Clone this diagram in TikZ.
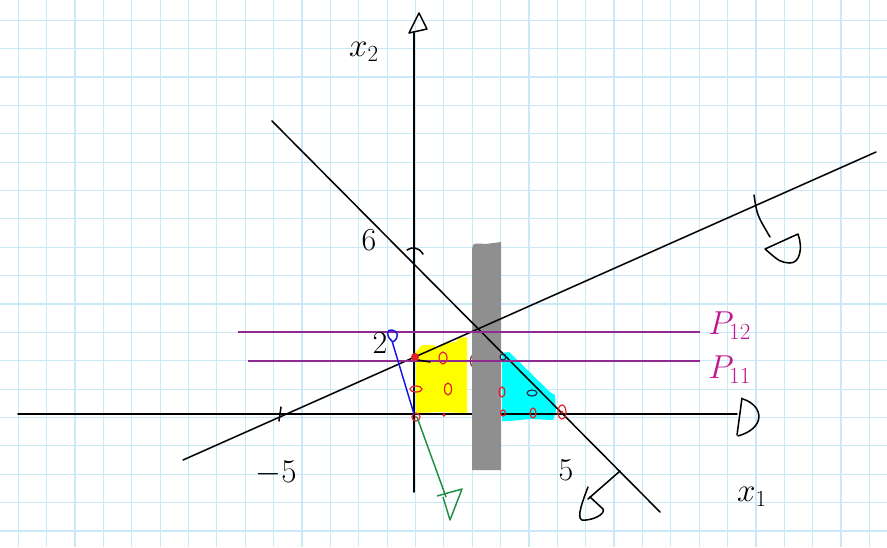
\documentclass[tikz,border=0pt]{standalone}
\definecolor{gridc}{HTML}{C9E9F9}
\definecolor{purp}{HTML}{8E2A92}
\definecolor{mag}{HTML}{C0188E}
\definecolor{redc}{HTML}{E3202A}
\definecolor{darkred}{HTML}{8E2A38}
\definecolor{navyc}{HTML}{20304A}
\definecolor{grayb}{HTML}{8F8F8F}
\definecolor{yel}{HTML}{FFFF00}
\definecolor{cyn}{HTML}{00FFFF}
\definecolor{bluec}{HTML}{1414E6}
\definecolor{greenc}{HTML}{1F8F3F}
\tikzset{
  gridline/.style={gridc, line width=0.9pt},
  pen/.style={black, line width=1.15pt, line cap=round, line join=round},
  purpline/.style={purp, line width=1.5pt},
  redmark/.style={redc, line width=0.9pt},
  darkmark/.style={darkred, line width=0.9pt},
  navymark/.style={navyc, line width=0.9pt},
  lab/.style={inner sep=0pt, font=\fontsize{24}{28}\selectfont},
  xlab/.style={inner sep=0pt, font=\fontsize{26}{30}\selectfont},
  plab/.style={inner sep=0pt, mag, font=\fontsize{24}{28}\selectfont},
}
\begin{document}
\begin{tikzpicture}[x=0.75pt,y=-0.75pt]
\useasboundingbox (0,0) rectangle (887,547);
\fill[white] (0,0) rectangle (887,547);
% grid
\foreach \k in {0,...,30} \draw[gridline] ({18.3+28.37*\k},0) -- ({18.3+28.37*\k},547);
\foreach \k in {0,...,18} \draw[gridline] (0,{20.3+28.37*\k}) -- (887,{20.3+28.37*\k});
% coordinates
\coordinate (O) at (414,414);
\coordinate (x1s) at (18,414);
\coordinate (x1e) at (737,414);
\coordinate (x2s) at (414,492);
\coordinate (x2e) at (414,33);
\coordinate (Da) at (272,121);
\coordinate (Db) at (660,512);
\coordinate (Aa) at (183,460);
\coordinate (Ab) at (876,152);
% shaded regions
\fill[yel] (416,352) -- (422,345) -- (433,345) -- (438,348) -- (446,343) -- (456,342) -- (459,338) -- (467,337)
  -- (467,413) -- (440,412) -- (416,413) -- cycle;
\fill[cyn] (502,353) -- (509,352) -- (550,392) -- (555,395) -- (556,412) -- (553,420) -- (530,419) -- (510,421) -- (502,421) -- cycle;
% axes
\draw[pen] (x1s) -- (x1e);
\draw[pen] (x2s) -- (x2e);
% faint marks under gray band
\draw[darkmark] (473,361) ellipse (2.5 and 6);
\draw[darkmark] (477,388) ellipse (2.5 and 6);
\draw[darkmark] (473,408) -- (473,414);
% gray band
\fill[grayb] (472,470) -- (472,249) .. controls (473,243) .. (486,244) -- (501,242) -- (501,470) -- cycle;
% lines
\draw[pen] (Da) -- (Db);
\draw[pen] (Aa) -- (Ab);
% purple lines
\coordinate (P2a) at (238,331.5);
\coordinate (P2b) at (700,331.5);
\coordinate (P1a) at (248,361);
\coordinate (P1b) at (700,361);
\draw[purpline] (P2a) -- (P2b);
\draw[purpline] (P1a) -- (P1b);
% axis arrow heads
\draw[pen] (409,33) -- (419,13) -- (427,29) -- cycle;
\draw[pen] (742,398) -- (737,435);
\draw[pen] (743,399) .. controls (764,406) and (766,428) .. (738,436);
% normal marker on ascending line
\draw[pen] (754,195) .. controls (757,215) .. (770,237);
\draw[pen] (765,249) -- (798,234) .. controls (803,248) and (800,263) .. (790,263) .. controls (780,262) .. (765,249);
% normal marker on descending line
\draw[pen] (620,471) -- (588,499);
\draw[pen] (588,487) .. controls (583,500) and (576,518) .. (582,520) .. controls (592,521) and (606,514) .. (603,509) -- (590,497);
% ticks
\draw[pen] (407,250) .. controls (412,246) and (420,248) .. (423,254);
\draw[pen] (281,407) -- (279,421);
\draw[pen] (418,360) -- (430,362);
% integer points
\fill[redc] (415,357) circle (4);
\draw[redmark] (443,358) ellipse (4 and 6);
\draw[redmark] (416,389) ellipse (6 and 3);
\draw[redmark] (448,389) ellipse (3.5 and 6);
\draw[redmark] (416,417) circle (4);
\fill[redc] (416,417) circle (1.2);
\fill[redc] (444,415) circle (1.8);
\draw[navymark] (503,357) circle (3);
\draw[redmark] (502,392) ellipse (3 and 5);
\draw[navymark] (532,393) ellipse (5 and 3);
\draw[redmark] (503,413) ellipse (2.5 and 3);
\draw[redmark] (533,413) ellipse (3 and 5);
\draw[redmark] (562,412) ellipse (4 and 7);
\fill[redc] (562,412) circle (1.5);
% blue arrow
\coordinate (bt) at (392,341);
\draw[bluec, line width=1.1pt] (O) -- (bt);
\draw[bluec, line width=1.1pt, line join=round] (bt) .. controls (385,335) and (387,329) .. (392,330) .. controls (398,331) and (400,337) .. (393,342);
% green arrow
\coordinate (gt) at (446,497);
\draw[greenc, line width=1.1pt] (417,417) -- (gt);
\draw[greenc, line width=1.1pt, line join=round] (437,496) -- (462,489) -- (450,520) -- (443,497);
% labels
\node[xlab] (x2lab) at (364,52) {$x_2$};
\node[xlab] (x1lab) at (752,497) {$x_1$};
\node[lab] (m5) at (276,473) {$-5$};
\node[lab] (p5) at (566,470) {5};
\node[lab] (l6) at (369,240) {6};
\node[lab] (l2) at (380,343) {2};
\node[plab, anchor=west] (P12) at (708,326) {$P_{12}$};
\node[plab, anchor=west] (P11) at (708,370) {$P_{11}$};
\end{tikzpicture}
\end{document}
